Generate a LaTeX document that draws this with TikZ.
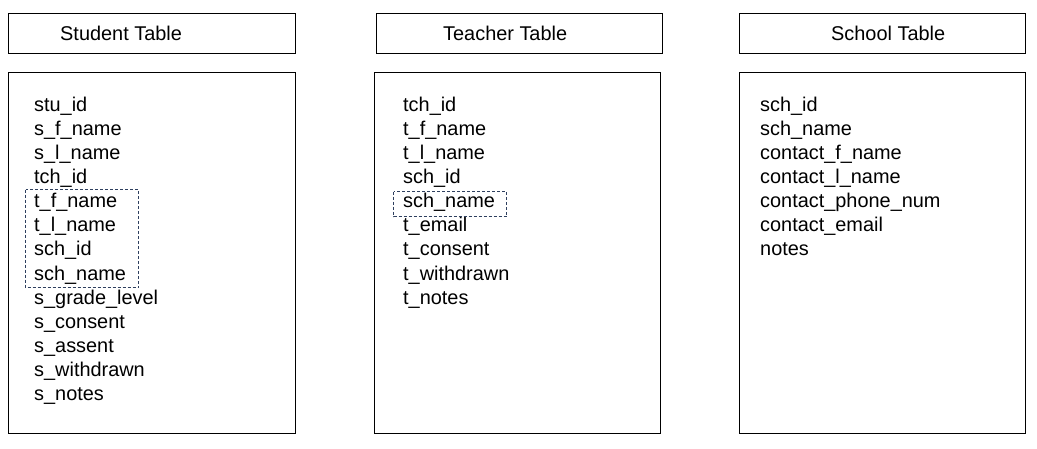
\documentclass[tikz,border=0pt]{standalone}
\usepackage{fontspec}
\setmainfont{Liberation Sans}
\definecolor{dashnavy}{HTML}{2E3F5E}
\begin{document}
\begin{tikzpicture}[x=1pt,y=-1pt,
  tbox/.style={draw=black,line width=1pt},
  hdr/.style={anchor=base west,inner sep=0pt,font=\fontsize{19.9}{24}\selectfont},
  fld/.style={anchor=base west,inner sep=0pt,font=\fontsize{19.9}{24}\selectfont},
  grp/.style={draw=dashnavy,line width=0.8pt,dash pattern=on 3pt off 2pt}]
\useasboundingbox (0,0) rectangle (1037,448);
% headers
\draw[tbox] (8.5,13.5) rectangle (295.5,53.5);
\draw[tbox] (376.5,13.5) rectangle (662.5,53.5);
\draw[tbox] (739.5,13.5) rectangle (1025.5,53.5);
\node[hdr] (hs) at (60,40) {Student Table};
\node[hdr] (ht) at (443,40) {Teacher Table};
\node[hdr] (hc) at (831,40) {School Table};
% bodies
\draw[tbox] (8.5,72.5) rectangle (295.5,433.5);
\draw[tbox] (374.5,72.5) rectangle (660.5,433.5);
\draw[tbox] (739.5,72.5) rectangle (1025.5,433.5);
% student fields
\foreach \t [count=\i from 0] in {stu\_id,s\_f\_name,s\_l\_name,tch\_id,t\_f\_name,t\_l\_name,sch\_id,sch\_name,s\_grade\_level,s\_consent,s\_assent,s\_withdrawn,s\_notes}
  \node[fld] (s\i) at (34,{111+24.15*\i}) {\t};
% teacher fields
\foreach \t [count=\i from 0] in {tch\_id,t\_f\_name,t\_l\_name,sch\_id,sch\_name,t\_email,t\_consent,t\_withdrawn,t\_notes}
  \node[fld] (t\i) at (403,{111+24.15*\i}) {\t};
% school fields
\foreach \t [count=\i from 0] in {sch\_id,sch\_name,contact\_f\_name,contact\_l\_name,contact\_phone\_num,contact\_email,notes}
  \node[fld] (c\i) at (760,{111+24.15*\i}) {\t};
% dashed groups
\draw[grp] (25.5,189.5) rectangle (138.5,287.5);
\draw[grp] (393.5,191.5) rectangle (506.5,216.5);
\end{tikzpicture}
\end{document}
